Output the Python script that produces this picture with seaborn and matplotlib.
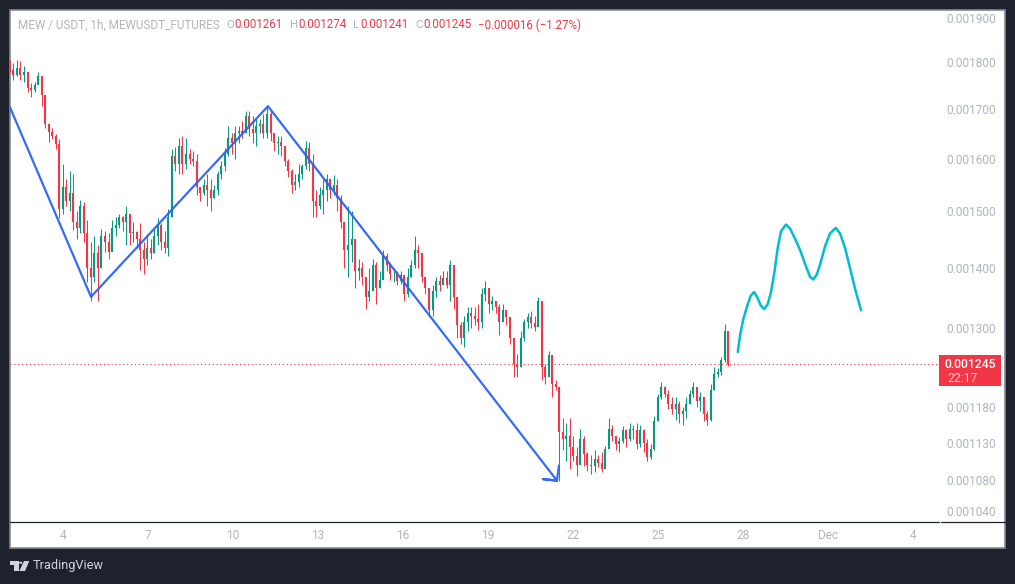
import numpy as np
import pandas as pd
import matplotlib
matplotlib.use("Agg")
import matplotlib.pyplot as plt
from matplotlib.patches import Rectangle, Polygon, Circle
from matplotlib.ticker import NullLocator
import seaborn as sns

### values, prices in millionths of USDT, one candle per ~3h
first_candle = "2024-11-02 03:00"
candle_step = "179min"
first_open = 1790
highs = [
    1806,1798,1806,1804,1793,1779,1755,1757,1779,1770,
    1730,1672,1662,1648,1638,1590,1560,1575,1570,1500,
    1521,1518,1484,1445,1455,1440,1468,1465,1460,1484,
    1490,1495,1492,1510,1492,1480,1465,1478,1445,1455,
    1450,1470,1488,1478,1465,1505,1618,1622,1640,1645,
    1640,1618,1615,1610,1545,1560,1570,1560,1550,1575,
    1595,1620,1665,1650,1665,1665,1675,1695,1695,1685,
    1680,1680,1690,1705,1695,1650,1645,1645,1625,1600,
    1580,1570,1590,1590,1635,1632,1610,1540,1545,1560,
    1570,1555,1568,1560,1530,1480,1510,1500,1450,1415,
    1410,1385,1400,1415,1410,1395,1430,1425,1408,1400,
    1395,1395,1385,1400,1413,1455,1440,1420,1385,1350,
    1370,1385,1388,1395,1395,1413,1405,1350,1310,1320,
    1335,1335,1335,1340,1365,1378,1360,1352,1345,1340,
    1340,1330,1318,1285,1260,1295,1315,1325,1328,1320,
    1350,1345,1245,1265,1255,1220,1210,1165,1158,1165,
    1140,1125,1150,1140,1118,1113,1120,1113,1118,1126,
    1165,1155,1140,1138,1153,1150,1158,1155,1158,1155,
    1150,1135,1128,1168,1200,1218,1212,1205,1195,1195,
    1190,1180,1195,1205,1218,1210,1202,1195,1175,1215,
    1240,1238,1255,1307,1274,
]
lows = [
    1779,1762,1770,1762,1758,1736,1725,1736,1753,1706,
    1662,1632,1638,1618,1487,1495,1510,1500,1466,1450,
    1460,1445,1375,1345,1375,1345,1400,1428,1415,1440,
    1455,1470,1465,1440,1440,1445,1435,1396,1390,1405,
    1415,1425,1440,1430,1425,1420,1490,1575,1570,1570,
    1580,1590,1585,1530,1520,1530,1510,1500,1525,1530,
    1560,1575,1605,1610,1600,1630,1640,1650,1645,1630,
    1625,1650,1640,1640,1635,1615,1610,1605,1585,1565,
    1535,1540,1545,1560,1580,1575,1490,1490,1505,1495,
    1520,1525,1530,1500,1470,1400,1385,1410,1365,1380,
    1370,1331,1345,1370,1340,1365,1385,1395,1380,1375,
    1370,1372,1345,1350,1385,1400,1400,1375,1355,1318,
    1320,1350,1360,1375,1365,1345,1331,1285,1275,1270,
    1295,1300,1305,1298,1300,1345,1325,1330,1325,1290,
    1315,1305,1275,1225,1225,1240,1280,1300,1300,1295,
    1312,1220,1215,1230,1195,1205,1078,1120,1105,1095,
    1105,1085,1115,1098,1092,1088,1090,1097,1090,1112,
    1128,1132,1120,1118,1130,1125,1132,1135,1122,1125,
    1118,1105,1108,1120,1160,1192,1195,1178,1170,1162,
    1158,1155,1165,1185,1195,1180,1175,1160,1155,1160,
    1205,1225,1228,1248,1241,
]
closes = [
    1783,1772,1787,1772,1779,1744,1740,1751,1770,1730,
    1670,1652,1644,1628,1505,1545,1520,1535,1480,1470,
    1510,1460,1400,1385,1425,1400,1455,1445,1428,1470,
    1475,1490,1480,1495,1460,1462,1450,1430,1415,1435,
    1425,1455,1475,1445,1435,1490,1605,1590,1625,1590,
    1610,1600,1595,1545,1535,1550,1540,1525,1540,1570,
    1585,1610,1640,1630,1650,1655,1650,1685,1660,1650,
    1665,1670,1650,1690,1650,1630,1632,1625,1595,1575,
    1550,1555,1570,1585,1620,1590,1520,1510,1530,1540,
    1560,1540,1550,1525,1480,1430,1440,1450,1395,1400,
    1385,1350,1360,1405,1365,1380,1420,1405,1390,1390,
    1378,1388,1355,1385,1405,1430,1425,1385,1365,1330,
    1360,1378,1370,1382,1370,1405,1350,1305,1285,1310,
    1325,1320,1315,1310,1355,1365,1340,1345,1335,1310,
    1330,1318,1285,1245,1240,1285,1310,1318,1308,1302,
    1345,1240,1225,1258,1215,1210,1145,1135,1140,1125,
    1112,1100,1135,1115,1100,1098,1108,1102,1095,1122,
    1150,1140,1128,1132,1148,1135,1150,1148,1128,1148,
    1130,1110,1122,1160,1195,1210,1200,1185,1178,1185,
    1170,1175,1185,1200,1210,1190,1195,1170,1162,1205,
    1230,1232,1250,1295,1245,
]

# hand drawn lines, hours counted from Nov 4 00:00
zigzag_hours = [-45, 23.7, 173.6, 418.4, 406.6, 418.4, 420.1]
zigzag_prices = [1704, 1351, 1706, 1079, 1081, 1079, 1099]
forecast_hours = [571.6, 573.5, 576.3, 579.7, 582.6, 585.4, 588.2, 591, 594, 596.9, 599.7,
                  602.5, 605.4, 608.2, 612.4, 615.8, 620, 624.3, 628.5, 632.7, 635.5,
                  638.4, 641.2, 645.5, 649.7, 654.6, 658.2, 662.5, 666.7, 671, 676]
forecast_prices = [1263, 1289, 1315, 1337, 1353, 1359, 1350, 1337, 1331, 1339, 1359,
                   1391, 1434, 1464, 1476, 1469, 1451, 1431, 1407, 1385, 1380,
                   1388, 1405, 1437, 1460, 1470, 1460, 1434, 1399, 1364, 1329]

day_ticks = ["2024-11-04", "2024-11-07", "2024-11-10", "2024-11-13", "2024-11-16", "2024-11-19",
             "2024-11-22", "2024-11-25", "2024-11-28", "2024-12-01", "2024-12-04"]
day_labels = ["4", "7", "10", "13", "16", "19", "22", "25", "28", "Dec", "4"]
price_ticks = [1900, 1800, 1700, 1600, 1500, 1400, 1300, 1180, 1130, 1080, 1040]
last_price = 1245

DARK = "#1e222d"
GREY = "#b2b5be"
RED = "#f23645"
GREEN = "#089981"
BLUE = "#2962ff"
CYAN = "#00bcd4"
FONT = "Roboto"
W, H = 1015, 584


def fx(x):
    return x / W


def fy(y):
    return 1 - y / H


def label(fig, x, y, s, color=GREY, size=8.0, ha="left", weight="normal"):
    fig.text(fx(x), fy(y), s, color=color, fontsize=size, ha=ha, va="center",
             family=FONT, weight=weight)


### long table with two rows per candle, drawn as separate units by lineplot
def candleFrames():
    times = pd.date_range(first_candle, periods=len(closes), freq=candle_step)
    opens = [first_open] + closes[:-1]
    wick_rows = []
    body_rows = []
    for i, t in enumerate(times):
        side = "up" if closes[i] >= opens[i] else "down"
        wick_rows.append((i, t, highs[i] / 1e6, side))
        wick_rows.append((i, t, lows[i] / 1e6, side))
        body_rows.append((i, t, opens[i] / 1e6, side))
        body_rows.append((i, t, closes[i] / 1e6, side))
    cols = ["candle", "time", "price", "side"]
    return pd.DataFrame(wick_rows, columns=cols), pd.DataFrame(body_rows, columns=cols)


def drawnLine(hours, prices):
    base = pd.Timestamp("2024-11-04")
    return pd.DataFrame({
        "time": [base + pd.Timedelta(hours=h) for h in hours],
        "price": np.array(prices) / 1e6,
    })


def chrome(fig):
    fig.add_artist(Rectangle((fx(10), fy(548)), 995 / W, 538 / H, facecolor="white",
                             edgecolor="#868993", linewidth=1.2, zorder=-1))
    # time axis separator
    fig.add_artist(plt.Line2D([fx(10), fx(938.5)], [fy(521.5)] * 2, color=DARK, lw=0.9))
    fig.add_artist(plt.Line2D([fx(940.5), fx(1005)], [fy(521.5)] * 2, color=DARK, lw=0.9))

    label(fig, 18, 25, "MEW / USDT, 1h, MEWUSDT_FUTURES", size=8.45)
    for x, s in [(226.5, "O"), (290, "H"), (353, "L"), (415.5, "C")]:
        label(fig, x, 25, s, size=8.2)
    for x, s in [(234.5, "0.001261"), (298, "0.001274"), (360.5, "0.001241"), (423, "0.001245"),
                 (478, "\u22120.000016 (\u22121.27%)")]:
        label(fig, x, 25, s, color=RED, size=8.3)

    # last price tag
    fig.add_artist(Rectangle((fx(939), fy(385.5)), 62 / W, 30.5 / H, facecolor=RED, edgecolor="none"))
    label(fig, 996, 364, "0.001245", color="white", size=8.7, ha="right", weight="medium")
    label(fig, 947, 378, "22:17", color="#ffd5d9", size=8.7)

    # TradingView mark and name
    mark = "#d1d4dc"
    fig.add_artist(Polygon([(fx(10), fy(561)), (fx(18.5), fy(561)), (fx(18.5), fy(571)), (fx(14), fy(571)),
                            (fx(14), fy(564.5)), (fx(10), fy(564.5))], facecolor=mark, edgecolor="none"))
    fig.add_artist(Polygon([(fx(24), fy(561)), (fx(29.3), fy(561)), (fx(25), fy(571)), (fx(19.3), fy(571))],
                           facecolor=mark, edgecolor="none"))
    fig.add_artist(Circle((fx(20.7), fy(562.8)), 1.8 / W, facecolor=mark, edgecolor="none"))
    label(fig, 33, 566, "TradingView", color=mark, size=9.2)


def main():
    sns.set_style("white")
    plt.rcParams["font.family"] = [FONT, "DejaVu Sans"]

    fig = plt.figure(figsize=(W / 100, H / 100), dpi=100, facecolor=DARK)
    ax = fig.add_axes([fx(10), fy(521), 928 / W, 511 / H])
    ax.patch.set_alpha(0)

    palette = {"up": GREEN, "down": RED}
    wicks, bodies = candleFrames()
    sns.lineplot(data=wicks, x="time", y="price", hue="side", units="candle", estimator=None,
                 palette=palette, legend=False, linewidth=0.75, solid_capstyle="butt", sort=False, ax=ax)
    sns.lineplot(data=bodies, x="time", y="price", hue="side", units="candle", estimator=None,
                 palette=palette, legend=False, linewidth=1.5, solid_capstyle="butt", sort=False, ax=ax)

    ax.axhline(last_price / 1e6, color=RED, lw=0.8, ls=(0, (1, 2.5)), zorder=1)

    # estimator=None so the repeated arrow tip is not averaged away
    sns.lineplot(data=drawnLine(zigzag_hours, zigzag_prices), x="time", y="price", sort=False,
                 estimator=None, color=BLUE, lw=1.6, alpha=0.95, zorder=5, ax=ax)
    sns.lineplot(data=drawnLine(forecast_hours, forecast_prices), x="time", y="price", sort=False,
                 estimator=None, color=CYAN, lw=1.8, zorder=5, ax=ax)

    ax.set_yscale("log")
    ax.set_ylim(1027e-6, 1919e-6)
    ax.set_xlim(pd.Timestamp("2024-11-02 03:05"), pd.Timestamp("2024-12-04 21:11"))
    ax.set_xlabel("")
    ax.set_ylabel("")
    ax.set_xticks(pd.to_datetime(day_ticks))
    ax.set_xticklabels(day_labels)
    ax.set_yticks(np.array(price_ticks) / 1e6)
    ax.set_yticklabels(["%.6f" % (p / 1e6) for p in price_ticks])
    ax.yaxis.set_minor_locator(NullLocator())
    ax.xaxis.set_minor_locator(NullLocator())
    ax.yaxis.tick_right()
    ax.tick_params(axis="both", length=0, labelcolor=GREY, labelsize=8.6)
    ax.tick_params(axis="x", pad=5.5)
    ax.tick_params(axis="y", pad=5.8)
    sns.despine(ax=ax, left=True, right=True, top=True, bottom=True)

    chrome(fig)
    fig.savefig("out.png", dpi=100, facecolor=DARK)


if __name__ == '__main__':
    main()
